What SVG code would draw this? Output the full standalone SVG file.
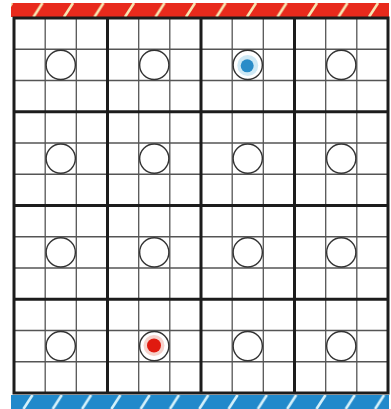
<svg xmlns="http://www.w3.org/2000/svg" width="391" height="409" viewBox="0 0 391 409">
<style>
.thin{stroke:#555;stroke-width:1.3;fill:none}
.thick{stroke:#1c1c1c;stroke-width:3;fill:none}
.ring{fill:#ffffff;stroke:#333;stroke-width:1.4}
</style>
<defs>
<pattern id="redStripe" patternUnits="userSpaceOnUse" x="22.75" y="3" width="30.5" height="14">
<rect width="30.5" height="14" fill="#e82a1c"/>
<line x1="10.75" y1="14" x2="19.75" y2="0" stroke="#f7e6b2" stroke-width="2.6"/>
</pattern>
<pattern id="blueStripe" patternUnits="userSpaceOnUse" x="13.35" y="395" width="29.3" height="14">
<rect width="29.3" height="14" fill="#2189cb"/>
<line x1="10.15" y1="14" x2="19.15" y2="0" stroke="#d4f1fb" stroke-width="2.6"/>
</pattern>
</defs>
<rect width="391" height="409" fill="#ffffff"/>
<rect id="top-bar" x="11" y="3" width="378" height="14" fill="url(#redStripe)"/>
<rect id="bottom-bar" x="11" y="395" width="378" height="14" fill="url(#blueStripe)"/>
<g id="grid">
<g class="thin">
<line x1="45.2" y1="18" x2="45.2" y2="393"/><line x1="76.3" y1="18" x2="76.3" y2="393"/>
<line x1="138.7" y1="18" x2="138.7" y2="393"/><line x1="169.8" y1="18" x2="169.8" y2="393"/>
<line x1="232.2" y1="18" x2="232.2" y2="393"/><line x1="263.3" y1="18" x2="263.3" y2="393"/>
<line x1="325.7" y1="18" x2="325.7" y2="393"/><line x1="356.8" y1="18" x2="356.8" y2="393"/>
<line x1="14" y1="49.25" x2="388" y2="49.25"/><line x1="14" y1="80.5" x2="388" y2="80.5"/>
<line x1="14" y1="143" x2="388" y2="143"/><line x1="14" y1="174.25" x2="388" y2="174.25"/>
<line x1="14" y1="236.75" x2="388" y2="236.75"/><line x1="14" y1="268" x2="388" y2="268"/>
<line x1="14" y1="330.5" x2="388" y2="330.5"/><line x1="14" y1="361.75" x2="388" y2="361.75"/>
</g>
<g class="thick">
<line x1="107.5" y1="18" x2="107.5" y2="393"/>
<line x1="201" y1="18" x2="201" y2="393"/>
<line x1="294.5" y1="18" x2="294.5" y2="393"/>
<line x1="14" y1="111.75" x2="388" y2="111.75"/>
<line x1="14" y1="205.5" x2="388" y2="205.5"/>
<line x1="14" y1="299.25" x2="388" y2="299.25"/>
<rect x="14" y="18" width="374" height="375"/>
</g>
</g>
<g id="connectors"/>
<g id="n-0-0"><circle class="ring" cx="60.75" cy="64.9" r="14.6"/></g>
<g id="n-0-1"><circle class="ring" cx="154.25" cy="64.9" r="14.6"/></g>
<g id="n-0-2"><circle class="ring" cx="247.75" cy="64.9" r="14.6"/><circle cx="247.75" cy="65.5" r="10.5" fill="#cfe9f5"/><circle cx="247.2" cy="65.8" r="6.5" fill="#2a8cc8"/></g>
<g id="n-0-3"><circle class="ring" cx="341.25" cy="64.9" r="14.6"/></g>
<g id="n-1-0"><circle class="ring" cx="60.75" cy="158.6" r="14.6"/></g>
<g id="n-1-1"><circle class="ring" cx="154.25" cy="158.6" r="14.6"/></g>
<g id="n-1-2"><circle class="ring" cx="247.75" cy="158.6" r="14.6"/></g>
<g id="n-1-3"><circle class="ring" cx="341.25" cy="158.6" r="14.6"/></g>
<g id="n-2-0"><circle class="ring" cx="60.75" cy="252.4" r="14.6"/></g>
<g id="n-2-1"><circle class="ring" cx="154.25" cy="252.4" r="14.6"/></g>
<g id="n-2-2"><circle class="ring" cx="247.75" cy="252.4" r="14.6"/></g>
<g id="n-2-3"><circle class="ring" cx="341.25" cy="252.4" r="14.6"/></g>
<g id="n-3-0"><circle class="ring" cx="60.75" cy="346.1" r="14.6"/></g>
<g id="n-3-1"><circle class="ring" cx="154.25" cy="346.1" r="14.6"/><circle cx="154" cy="345.5" r="10.5" fill="#f6d2cc"/><circle cx="154" cy="345.5" r="7" fill="#e01a10"/></g>
<g id="n-3-2"><circle class="ring" cx="247.75" cy="346.1" r="14.6"/></g>
<g id="n-3-3"><circle class="ring" cx="341.25" cy="346.1" r="14.6"/></g>
</svg>
